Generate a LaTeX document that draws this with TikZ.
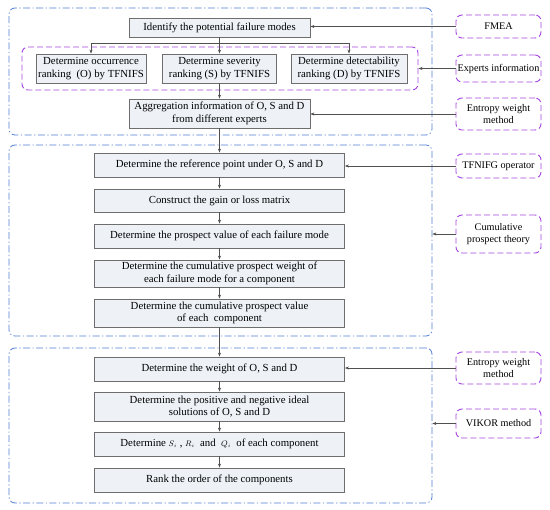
\documentclass[tikz,border=0pt]{standalone}
\usepackage{fontspec}
\setmainfont{Liberation Serif}
\usetikzlibrary{arrows.meta}
\definecolor{boxfill}{RGB}{238,242,247}
\definecolor{boxline}{RGB}{110,110,110}
\definecolor{grpblue}{RGB}{80,125,210}
\definecolor{purp}{RGB}{165,70,225}
\definecolor{arrcol}{RGB}{80,80,80}
\tikzset{
  stepbox/.style={draw=boxline, fill=boxfill, line width=0.8pt, inner sep=1pt, align=center, font=\fontsize{10.8}{12.5}\selectfont},
  grp/.style={draw=grpblue, line width=0.8pt, rounded corners=6pt, dash pattern=on 7pt off 2.5pt on 1.2pt off 2.5pt},
  mgrp/.style={draw=purp, line width=0.9pt, rounded corners=6pt, dash pattern=on 6pt off 3pt},
  side/.style={draw=purp, line width=0.9pt, rounded corners=6pt, dash pattern=on 6pt off 3pt, align=center, inner sep=1pt, font=\fontsize{10.2}{12}\selectfont},
  arr/.style={draw=arrcol, line width=0.6pt, -{Stealth[length=4pt,width=3pt]}}
}
\begin{document}
\begin{tikzpicture}[x=1pt,y=-1pt]
\useasboundingbox (0,0) rectangle (550,510);
% groups
\node[grp, minimum width=423pt, minimum height=127pt] (g1) at (220.5,71.5) {};
\node[grp, minimum width=423pt, minimum height=191pt] (g2) at (220.5,240.5) {};
\node[grp, minimum width=423pt, minimum height=155pt] (g3) at (220.5,425.5) {};
\node[mgrp, minimum width=396pt, minimum height=43pt] (mg) at (220,68.5) {};
% top steps
\node[stepbox, minimum width=181pt, minimum height=19pt] (b1) at (219.5,27.5) {Identify the potential failure modes};
\node[stepbox, minimum width=110pt, minimum height=29pt] (bO) at (91,68.5) {Determine occurrence\\ranking~~(O) by TFNIFS};
\node[stepbox, minimum width=114pt, minimum height=29pt] (bS) at (219.5,68.5) {Determine severity\\ranking (S) by TFNIFS};
\node[stepbox, minimum width=116pt, minimum height=29pt] (bD) at (349,68.5) {Determine detectability\\ranking (D) by TFNIFS};
\node[stepbox, minimum width=181pt, minimum height=29pt] (agg) at (219.5,113.5) {Aggregation information of O, S and D\\from different experts};
% middle steps
\node[stepbox, minimum width=250pt, minimum height=24pt] (ref) at (219.5,165) {Determine the reference point under O, S and D};
\node[stepbox, minimum width=250pt, minimum height=23pt] (gain) at (219.5,200.5) {Construct the gain or loss matrix};
\node[stepbox, minimum width=250pt, minimum height=24pt] (pv) at (219.5,236) {Determine the prospect value of each failure mode};
\node[stepbox, minimum width=250pt, minimum height=27pt] (cw) at (219.5,273.5) {Determine the cumulative prospect weight of\\each failure mode for a component};
\node[stepbox, minimum width=250pt, minimum height=28pt] (cv) at (219.5,313) {Determine the cumulative prospect value\\of each~~component};
% bottom steps
\node[stepbox, minimum width=250pt, minimum height=24pt] (wt) at (219.5,369) {Determine the weight of O, S and D};
\node[stepbox, minimum width=250pt, minimum height=29pt] (ideal) at (219.5,406.5) {Determine the positive and negative ideal\\solutions of O, S and D};
\node[stepbox, minimum width=250pt, minimum height=24pt] (srq) at (219.5,444) {Determine $\scriptstyle S_i$ , $\scriptstyle R_i$~ and ~$\scriptstyle Q_i$~ of each component};
\node[stepbox, minimum width=250pt, minimum height=24pt] (rank) at (219.5,480) {Rank the order of the components};
% side boxes
\node[side, minimum width=85pt, minimum height=23pt] (fmea) at (498.5,26.5) {FMEA};
\node[side, minimum width=85pt, minimum height=27pt] (exp) at (498.5,68.5) {Experts information};
\node[side, minimum width=85pt, minimum height=32pt] (ent1) at (498.5,114) {Entropy weight\\method};
\node[side, minimum width=85pt, minimum height=24pt] (tf) at (498.5,166) {TFNIFG operator};
\node[side, minimum width=85pt, minimum height=38pt] (cpt) at (498.5,234) {Cumulative\\prospect theory};
\node[side, minimum width=85pt, minimum height=32pt] (ent2) at (498.5,368) {Entropy weight\\method};
\node[side, minimum width=85pt, minimum height=29pt] (vik) at (498.5,423.5) {VIKOR method};
% connectors
\coordinate (j) at (219.5,43);
\draw[draw=arrcol, line width=0.6pt] (b1.south) -- (j);
\draw[arr] (j) -| (bO.north);
\draw[arr] (j) -| (bD.north);
\draw[arr] (j) -- (bS.north);
\draw[arr] (bS.south) -- (agg.north);
\draw[arr] (agg.south) -- (ref.north);
\draw[arr] (ref.south) -- (gain.north);
\draw[arr] (gain.south) -- (pv.north);
\draw[arr] (pv.south) -- (cw.north);
\draw[arr] (cw.south) -- (cv.north);
\draw[arr] (cv.south) -- (wt.north);
\draw[arr] (wt.south) -- (ideal.north);
\draw[arr] (ideal.south) -- (srq.north);
\draw[arr] (srq.south) -- (rank.north);
\draw[arr] (fmea.west) -- (fmea.west -| b1.east);
\draw[arr] (exp.west) -- (exp.west -| mg.east);
\draw[arr] (ent1.west) -- (ent1.west -| agg.east);
\draw[arr] (tf.west) -- (tf.west -| ref.east);
\draw[arr] (cpt.west) -- (cpt.west -| g2.east);
\draw[arr] (ent2.west) -- (ent2.west -| wt.east);
\draw[arr] (vik.west) -- (vik.west -| g3.east);
\end{tikzpicture}
\end{document}
